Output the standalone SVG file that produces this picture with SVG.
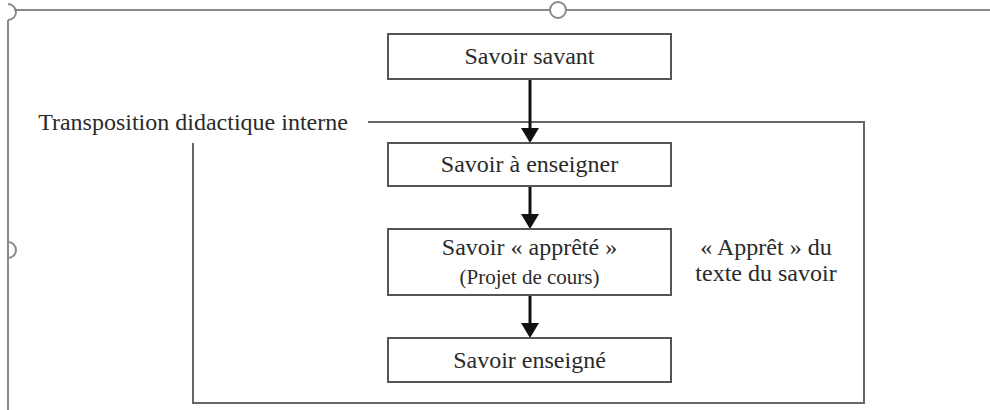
<svg xmlns="http://www.w3.org/2000/svg" width="990" height="410" viewBox="0 0 990 410">
<style>
.box{fill:#fff;stroke:#555;stroke-width:2}
.frame{fill:none;stroke:#666;stroke-width:2}
.page{fill:none;stroke:#8a8a8a;stroke-width:2}
.t{font-family:"Liberation Serif","Times New Roman",serif;fill:#2a2a2a;text-anchor:middle}
.arr{stroke:#111;stroke-width:3;fill:none}
.head{fill:#111}
</style>
<rect width="990" height="410" fill="#fff"/>
<g id="page">
<path class="page" d="M14,10 H990"/>
<path class="page" d="M8,410 V20"/>
<path class="page" d="M8,4 A8,8 0 0 1 8,20"/>
<path class="page" d="M8,242 A8,8 0 0 1 8,258"/>
<circle cx="558" cy="10" r="8" fill="#fff" stroke="#8a8a8a" stroke-width="2"/>
</g>
<g id="frame">
<path class="frame" d="M368,122 H864 V403 H193 V143"/>
<text class="t" x="193" y="130" font-size="24">Transposition didactique interne</text>
</g>
<g id="connectors">
<line class="arr" x1="530" y1="79" x2="530" y2="130"/>
<polygon class="head" points="521,128 539,128 530,143"/>
<line class="arr" x1="530" y1="186" x2="530" y2="216"/>
<polygon class="head" points="521,214 539,214 530,229"/>
<line class="arr" x1="530" y1="295" x2="530" y2="325"/>
<polygon class="head" points="521,323 539,323 530,338"/>
</g>
<g id="savant">
<rect class="box" x="388" y="34" width="283" height="45"/>
<text class="t" x="529.5" y="64" font-size="24">Savoir savant</text>
</g>
<g id="a-enseigner">
<rect class="box" x="388" y="143" width="283" height="43"/>
<text class="t" x="529.5" y="172" font-size="24">Savoir à enseigner</text>
</g>
<g id="apprete">
<rect class="box" x="388" y="229" width="283" height="66"/>
<text class="t" x="529.5" y="255" font-size="24">Savoir « apprêté »</text>
<text class="t" x="529.5" y="284" font-size="21">(Projet de cours)</text>
</g>
<g id="enseigne">
<rect class="box" x="388" y="338" width="283" height="44"/>
<text class="t" x="529.5" y="368" font-size="24">Savoir enseigné</text>
</g>
<g id="apret-label">
<text class="t" x="766" y="255" font-size="24">« Apprêt » du</text>
<text class="t" x="766" y="281" font-size="24">texte du savoir</text>
</g>
</svg>
